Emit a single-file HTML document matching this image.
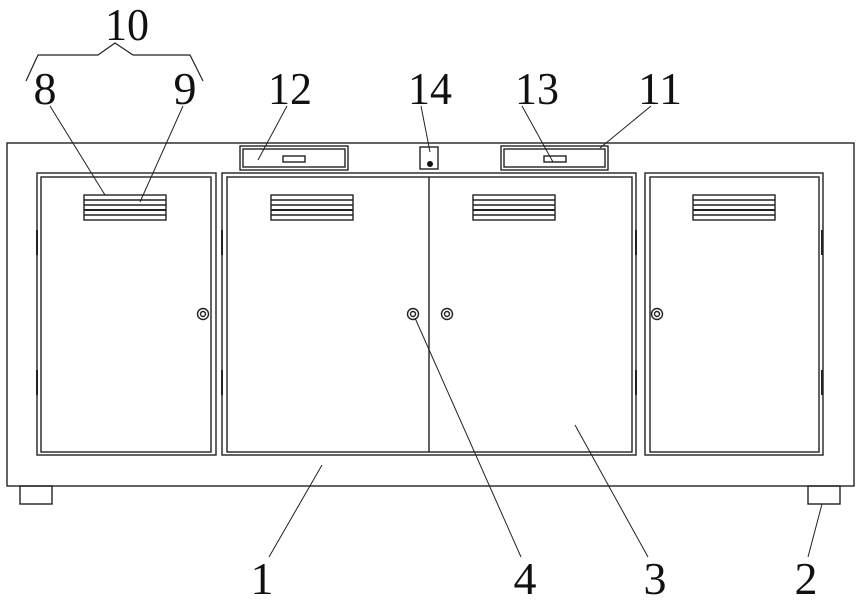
<!DOCTYPE html>
<html><head><meta charset="utf-8"><style>
html,body{margin:0;padding:0;background:#fff;}
svg{display:block;}
text{font-family:"Liberation Serif",serif;font-size:46px;fill:#111;}
</style></head><body>
<svg width="861" height="601" viewBox="0 0 861 601" xmlns="http://www.w3.org/2000/svg">
<g fill="none" stroke="#222" stroke-width="1.4">
<rect x="7" y="143" width="847" height="343"/>
<rect x="20" y="486" width="32" height="18"/>
<rect x="808" y="486" width="32" height="18"/>
<rect x="37" y="173" width="179" height="282"/>
<rect x="41" y="177" width="170" height="275"/>
<rect x="222" y="173" width="414" height="282"/>
<rect x="227" y="177" width="405" height="275"/>
<line x1="429" y1="177" x2="429" y2="452"/>
<rect x="645" y="173" width="178" height="282"/>
<rect x="650" y="177" width="169" height="275"/>
<g stroke-width="2">
<line x1="37" y1="230" x2="37" y2="255"/><line x1="37" y1="370" x2="37" y2="395"/>
<line x1="222" y1="230" x2="222" y2="255"/><line x1="222" y1="370" x2="222" y2="395"/>
<line x1="636" y1="230" x2="636" y2="255"/><line x1="636" y1="370" x2="636" y2="395"/>
<line x1="822" y1="230" x2="822" y2="255"/><line x1="822" y1="370" x2="822" y2="395"/>
</g>
<g id="v">
<rect x="84" y="195" width="82" height="25"/>
<line x1="84" y1="200" x2="166" y2="200"/>
<line x1="84" y1="205" x2="166" y2="205"/>
<line x1="84" y1="210" x2="166" y2="210" stroke-width="2"/>
<line x1="84" y1="215" x2="166" y2="215"/>
</g>
<use href="#v" x="187"/>
<use href="#v" x="389"/>
<use href="#v" x="609"/>
<circle cx="203" cy="314" r="5.5"/><circle cx="203" cy="314" r="2.5"/>
<circle cx="413" cy="314" r="5.5"/><circle cx="413" cy="314" r="2.5"/>
<circle cx="447" cy="314" r="5.5"/><circle cx="447" cy="314" r="2.5"/>
<circle cx="657" cy="314" r="5.5"/><circle cx="657" cy="314" r="2.5"/>
<rect x="240" y="146" width="108" height="24"/>
<rect x="243" y="149" width="102" height="18"/>
<rect x="283" y="156" width="22" height="6"/>
<rect x="501" y="146" width="107" height="24"/>
<rect x="504" y="149" width="101" height="18"/>
<rect x="544" y="156" width="22" height="6"/>
<rect x="420" y="147" width="18" height="22"/>
<polyline points="26,81 38,55 98,55 115,43 133,55 190,55 203,81" stroke-width="1.2"/>
<g stroke-width="1">
<line x1="50" y1="106" x2="105" y2="195"/>
<line x1="183" y1="106" x2="140" y2="202"/>
<line x1="287" y1="106" x2="258" y2="160"/>
<line x1="421" y1="106" x2="430" y2="152"/>
<line x1="522" y1="106" x2="553" y2="162"/>
<line x1="651" y1="106" x2="600" y2="148"/>
<line x1="322" y1="465" x2="269" y2="557"/>
<line x1="415" y1="318" x2="521" y2="557"/>
<line x1="575" y1="425" x2="648" y2="557"/>
<line x1="822" y1="504" x2="808" y2="557"/>
</g>
</g>
<circle cx="430" cy="164" r="3" fill="#111"/>
<g text-anchor="middle">
<text x="127" y="40" textLength="44" lengthAdjust="spacingAndGlyphs">10</text>
<text x="45" y="104">8</text>
<text x="185" y="104">9</text>
<text x="290" y="104" textLength="44" lengthAdjust="spacingAndGlyphs">12</text>
<text x="430" y="104" textLength="44" lengthAdjust="spacingAndGlyphs">14</text>
<text x="537" y="104" textLength="44" lengthAdjust="spacingAndGlyphs">13</text>
<text x="660" y="104" textLength="44" lengthAdjust="spacingAndGlyphs">11</text>
<text x="262" y="594">1</text>
<text x="525" y="594">4</text>
<text x="655" y="594">3</text>
<text x="806" y="594">2</text>
</g>
</svg>
</body></html>
